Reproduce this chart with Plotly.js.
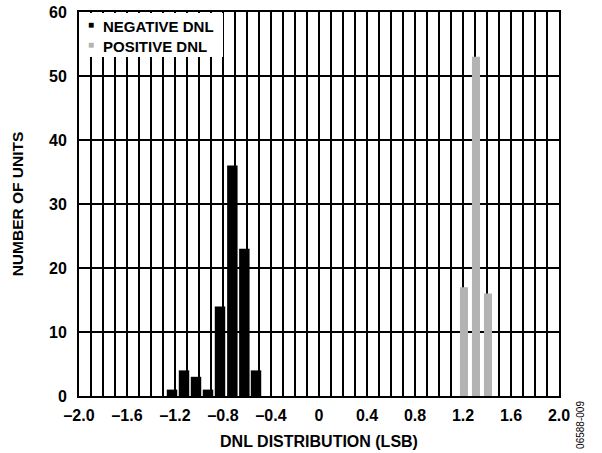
<!DOCTYPE html>
<html>
<head>
<meta charset="utf-8">
<script src="https://cdn.plot.ly/plotly-3.0.1.min.js"></script>
<style>html,body{margin:0;padding:0;background:#fff;}#chart{width:602px;height:453px;}</style>
</head>
<body>
<div id="chart"></div>
<script>
// Data
const negBins = [-1.225, -1.125, -1.025, -0.925, -0.825, -0.722, -0.622, -0.525];
const negCounts = [1, 4, 3, 1, 14, 36, 23, 4];
const posBins = [1.208, 1.308, 1.408];
const posCounts = [17, 53, 16];
const xTickVals = [-2.0, -1.6, -1.2, -0.8, -0.4, 0, 0.4, 0.8, 1.2, 1.6, 2.0];
const xTickText = ["\u20132.0", "\u20131.6", "\u20131.2", "\u20130.8", "\u20130.4", "0", "0.4", "0.8", "1.2", "1.6", "2.0"];
const yTickVals = [0, 10, 20, 30, 40, 50, 60];
const seriesNames = ["NEGATIVE DNL", "POSITIVE DNL"];
const seriesColors = ["#000000", "#b3b3b3"];

const FONT = "Liberation Sans, Arial, Helvetica, sans-serif";
const f = (size, weight, color) => ({family: FONT, size: size, color: color || "#000", weight: weight});

const traces = [
  {type: "bar", name: seriesNames[0], x: negBins, y: negCounts, width: 0.087,
   marker: {color: seriesColors[0], line: {width: 0}}, showlegend: false, hoverinfo: "skip"},
  {type: "bar", name: seriesNames[1], x: posBins, y: posCounts, width: 0.067,
   marker: {color: seriesColors[1], line: {width: 0}}, showlegend: false, hoverinfo: "skip"}
];

// legend built from annotations (white box, colour keys, labels)
const legendRows = [0, 1];
const keyY = [0.9674, 0.9154];
const labelY = [0.961, 0.9089];
const legendAnns = [
  {text: " ", xref: "paper", yref: "paper", x: 0.003, y: 0.997, xanchor: "left", yanchor: "top",
   width: 143, height: 44, bgcolor: "#ffffff", borderpad: 0, borderwidth: 0, showarrow: false, font: f(10, "normal")}
];
legendRows.forEach(i => {
  legendAnns.push({text: "\u25A0", xref: "paper", yref: "paper", x: 0.025, y: keyY[i], xanchor: "center", yanchor: "middle",
                   showarrow: false, borderpad: 0, font: f(10, "normal", seriesColors[i])});
  legendAnns.push({text: seriesNames[i], xref: "paper", yref: "paper", x: 0.0479, y: labelY[i], xanchor: "left", yanchor: "middle",
                   showarrow: false, borderpad: 0, font: f(15, "bold")});
});

const layout = {
  width: 602, height: 453,
  margin: {l: 79, r: 43, t: 12, b: 57, pad: 0, autoexpand: false},
  paper_bgcolor: "#fff", plot_bgcolor: "#fff",
  barmode: "overlay",
  showlegend: false,
  xaxis: {range: [-2, 2], tickvals: xTickVals, ticktext: xTickText, tickfont: f(16, "bold"),
          showgrid: true, gridcolor: "#000", gridwidth: 1.2,
          minor: {dtick: 0.1, tick0: 0, showgrid: true, gridcolor: "#000", gridwidth: 1.2},
          showline: true, linecolor: "#000", linewidth: 2, mirror: true, zeroline: false,
          ticks: "", ticklabelstandoff: 4,
          title: {text: "DNL DISTRIBUTION (LSB)", font: f(16, "bold"), standoff: 13}, fixedrange: true},
  yaxis: {range: [0, 60], tickvals: yTickVals, tickfont: f(16, "bold"),
          showgrid: true, gridcolor: "#000", gridwidth: 1.4,
          showline: true, linecolor: "#000", linewidth: 2, mirror: true, zeroline: false,
          ticks: "", ticklabelstandoff: 7,
          title: {text: "NUMBER OF UNITS", font: f(15.5, "bold"), standoff: 22}, fixedrange: true},
  annotations: legendAnns.concat([
    {text: "06588-009", xref: "paper", yref: "paper", x: 1.046, y: -0.075, xanchor: "center", yanchor: "middle",
     textangle: -90, showarrow: false, font: f(10, "normal")}
  ])
};

Plotly.newPlot("chart", traces, layout, {staticPlot: true, displayModeBar: false});
</script>
</body>
</html>
